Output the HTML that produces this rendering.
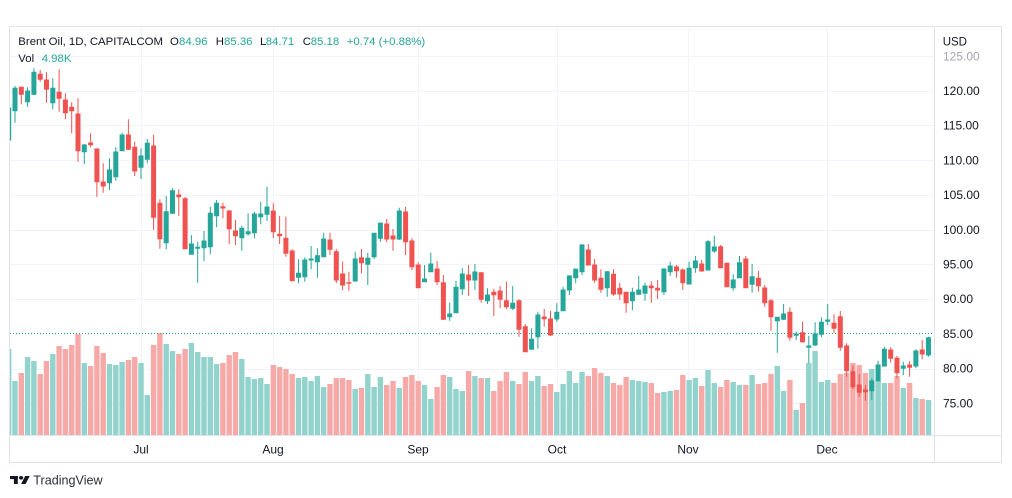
<!DOCTYPE html>
<html><head><meta charset="utf-8"><style>
html,body{margin:0;padding:0;background:#fff;width:1012px;height:498px;overflow:hidden}
svg{display:block;font-family:"Liberation Sans",Arial,sans-serif}
.g{fill:#26a69a;stroke:#26a69a;stroke-width:1}
.r{fill:#ef5350;stroke:#ef5350;stroke-width:1}
.vg{fill:#93d3cd}
.vr{fill:#f7a9a8}
.hd{position:absolute;font-family:"Liberation Sans",Arial,sans-serif;font-size:11.4px;line-height:14px;color:#131722;white-space:nowrap}
.t{color:#26a69a}
</style></head><body>
<svg width="1012" height="498" viewBox="0 0 1012 498">
<defs><clipPath id="c"><rect x="10" y="27" width="924" height="408"/></clipPath></defs>
<rect x="9.5" y="26.5" width="992" height="436" fill="#fff" stroke="#e0e3eb"/>
<g clip-path="url(#c)">
<g stroke="#f0f3fa" stroke-width="1">
<line x1="10" x2="934" y1="56.5" y2="56.5"/><line x1="10" x2="934" y1="91.5" y2="91.5"/><line x1="10" x2="934" y1="125.5" y2="125.5"/><line x1="10" x2="934" y1="160.5" y2="160.5"/><line x1="10" x2="934" y1="195.5" y2="195.5"/><line x1="10" x2="934" y1="230.5" y2="230.5"/><line x1="10" x2="934" y1="264.5" y2="264.5"/><line x1="10" x2="934" y1="299.5" y2="299.5"/><line x1="10" x2="934" y1="369.5" y2="369.5"/><line x1="10" x2="934" y1="403.5" y2="403.5"/>
<line x1="141.5" x2="141.5" y1="27" y2="435"/><line x1="273.5" x2="273.5" y1="27" y2="435"/><line x1="418.5" x2="418.5" y1="27" y2="435"/><line x1="557.5" x2="557.5" y1="27" y2="435"/><line x1="688.5" x2="688.5" y1="27" y2="435"/><line x1="827.5" x2="827.5" y1="27" y2="435"/>
</g>
<path class="vg" d="M6 435V349h5.4V435zM12.3 435V381h5.4V435zM24.9 435V357h5.4V435zM31.2 435V361h5.4V435zM50.1 435V354h5.4V435zM81.6 435V363h5.4V435zM106.8 435V364h5.4V435zM113.1 435V365h5.4V435zM119.4 435V362h5.4V435zM138.3 435V363h5.4V435zM144.6 435V395h5.4V435zM163.5 435V344h5.4V435zM169.8 435V351h5.4V435zM188.7 435V343h5.4V435zM195 435V352h5.4V435zM201.3 435V357h5.4V435zM207.6 435V357h5.4V435zM213.9 435V364h5.4V435zM239.1 435V359h5.4V435zM245.4 435V377h5.4V435zM251.7 435V379h5.4V435zM258 435V378h5.4V435zM264.3 435V384h5.4V435zM295.8 435V378h5.4V435zM302.1 435V377h5.4V435zM308.4 435V381h5.4V435zM314.7 435V376h5.4V435zM321 435V387h5.4V435zM352.5 435V389h5.4V435zM365.1 435V374h5.4V435zM371.4 435V387h5.4V435zM377.7 435V377h5.4V435zM396.6 435V388h5.4V435zM421.8 435V385h5.4V435zM428.1 435V399h5.4V435zM447 435V377h5.4V435zM453.3 435V389h5.4V435zM459.6 435V391h5.4V435zM472.2 435V376h5.4V435zM484.8 435V378h5.4V435zM510 435V381h5.4V435zM528.9 435V381h5.4V435zM535.2 435V376h5.4V435zM554.1 435V392h5.4V435zM560.4 435V384h5.4V435zM566.7 435V371h5.4V435zM573 435V383h5.4V435zM579.3 435V372h5.4V435zM604.5 435V376h5.4V435zM629.7 435V380h5.4V435zM636 435V381h5.4V435zM642.3 435V382h5.4V435zM661.2 435V392h5.4V435zM667.5 435V391h5.4V435zM686.4 435V380h5.4V435zM692.7 435V378h5.4V435zM705.3 435V370h5.4V435zM711.6 435V383h5.4V435zM730.5 435V382h5.4V435zM736.8 435V385h5.4V435zM749.4 435V375h5.4V435zM774.6 435V366h5.4V435zM780.9 435V391h5.4V435zM793.5 435V410h5.4V435zM806.1 435V363h5.4V435zM812.4 435V351h5.4V435zM818.7 435V382h5.4V435zM825 435V380h5.4V435zM869.1 435V369h5.4V435zM875.4 435V381h5.4V435zM881.7 435V383h5.4V435zM900.6 435V388h5.4V435zM913.2 435V398h5.4V435zM925.8 435V400h5.4V435z"/>
<path class="vr" d="M18.6 435V373h5.4V435zM37.5 435V374h5.4V435zM43.8 435V361h5.4V435zM56.4 435V346h5.4V435zM62.7 435V349h5.4V435zM69 435V345h5.4V435zM75.3 435V334h5.4V435zM87.9 435V366h5.4V435zM94.2 435V346h5.4V435zM100.5 435V353h5.4V435zM125.7 435V360h5.4V435zM132 435V357h5.4V435zM150.9 435V345h5.4V435zM157.2 435V333h5.4V435zM176.1 435V354h5.4V435zM182.4 435V349h5.4V435zM220.2 435V363h5.4V435zM226.5 435V355h5.4V435zM232.8 435V352h5.4V435zM270.6 435V365h5.4V435zM276.9 435V367h5.4V435zM283.2 435V369h5.4V435zM289.5 435V374h5.4V435zM327.3 435V384h5.4V435zM333.6 435V378h5.4V435zM339.9 435V378h5.4V435zM346.2 435V380h5.4V435zM358.8 435V388h5.4V435zM384 435V385h5.4V435zM390.3 435V381h5.4V435zM402.9 435V377h5.4V435zM409.2 435V375h5.4V435zM415.5 435V381h5.4V435zM434.4 435V387h5.4V435zM440.7 435V375h5.4V435zM465.9 435V371h5.4V435zM478.5 435V378h5.4V435zM491.1 435V391h5.4V435zM497.4 435V381h5.4V435zM503.7 435V372h5.4V435zM516.3 435V384h5.4V435zM522.6 435V372h5.4V435zM541.5 435V386h5.4V435zM547.8 435V384h5.4V435zM585.6 435V376h5.4V435zM591.9 435V368h5.4V435zM598.2 435V373h5.4V435zM610.8 435V383h5.4V435zM617.1 435V385h5.4V435zM623.4 435V377h5.4V435zM648.6 435V383h5.4V435zM654.9 435V393h5.4V435zM673.8 435V390h5.4V435zM680.1 435V375h5.4V435zM699 435V386h5.4V435zM717.9 435V387h5.4V435zM724.2 435V380h5.4V435zM743.1 435V385h5.4V435zM755.7 435V384h5.4V435zM762 435V383h5.4V435zM768.3 435V374h5.4V435zM787.2 435V380h5.4V435zM799.8 435V403h5.4V435zM831.3 435V383h5.4V435zM837.6 435V374h5.4V435zM843.9 435V373h5.4V435zM850.2 435V363h5.4V435zM856.5 435V365h5.4V435zM862.8 435V373h5.4V435zM888 435V383h5.4V435zM894.3 435V376h5.4V435zM906.9 435V383h5.4V435zM919.5 435V399h5.4V435z"/>
<line x1="10" x2="934" y1="333.5" y2="333.5" stroke="#26a69a" stroke-width="1" stroke-dasharray="1 2"/>
<path class="g" d="M8.7 106V142M6.7 108h4V140h-4zM15 86V122.7M13 88.3h4V110.7h-4zM27.6 87.3V106.7M25.6 91h4V101.7h-4zM33.9 68.3V95M31.9 72.3h4V94.3h-4zM52.8 78.3V109.3M50.8 88.3h4V102.7h-4zM84.3 144V164M82.3 145h4V151.7h-4zM109.5 158.3V190M107.5 170h4V182.7h-4zM115.8 147.3V180.7M113.8 152h4V176.7h-4zM122.1 132.7V150.7M120.1 135h4V150.7h-4zM141 148.3V179M139 156h4V167.3h-4zM147.3 139V163.3M145.3 143.3h4V159.3h-4zM166.2 196V249.3M164.2 211.7h4V242.7h-4zM172.5 188.3V214M170.5 190.7h4V213.3h-4zM191.4 235V254.3M189.4 244h4V254.3h-4zM197.7 241.7V282.7M195.7 247.3h4V248.3h-4zM204 231V261M202 241h4V247.7h-4zM210.3 206.7V254M208.3 213.3h4V246.7h-4zM216.6 200V227.3M214.6 203.3h4V215.7h-4zM241.8 225.7V250.7M239.8 228.3h4V237.7h-4zM248.1 213.3V235.7M246.1 231.7h4V233.7h-4zM254.4 211.7V238.3M252.4 214h4V232.7h-4zM260.7 201.7V224.3M258.7 214h4V216.7h-4zM267 186.7V221M265 207h4V214.3h-4zM298.5 259.3V283.3M296.5 273.3h4V277.3h-4zM304.8 257.3V281.7M302.8 260h4V276.7h-4zM311.1 246V269.3M309.1 259h4V260h-4zM317.4 248.3V277.7M315.4 255.7h4V261.7h-4zM323.7 232.7V257.3M321.7 239h4V256.7h-4zM355.2 251.7V281.7M353.2 259h4V281h-4zM367.8 252.7V285M365.8 258.3h4V264.3h-4zM374.1 232.7V259M372.1 233.3h4V256.7h-4zM380.4 222.3V241.7M378.4 223.3h4V238.3h-4zM399.3 207.7V240M397.3 211h4V239h-4zM424.5 265V281.7M422.5 279h4V281.7h-4zM430.8 252.7V272.3M428.8 264h4V271.7h-4zM449.7 302.7V320.7M447.7 314h4V316.7h-4zM456 280.7V312.7M454 287.3h4V312.7h-4zM462.3 268.3V295M460.3 274h4V288.7h-4zM474.9 264V290M472.9 272h4V280h-4zM487.5 288.3V304M485.5 295h4V300.7h-4zM512.7 286V310M510.7 303.3h4V308.3h-4zM531.6 328.3V349.3M529.6 339.3h4V349.3h-4zM537.9 311.7V348.7M535.9 315h4V336.7h-4zM556.8 303.3V321.7M554.8 312.3h4V319h-4zM563.1 286.7V310.7M561.1 290h4V310.7h-4zM569.4 275V295M567.4 276h4V290h-4zM575.7 268.3V283.3M573.7 269.3h4V277.7h-4zM582 244V275M580 245h4V271.7h-4zM607.2 271V296.7M605.2 271.7h4V287.7h-4zM632.4 287.7V310M630.4 292.3h4V300.7h-4zM638.7 276V295M636.7 290h4V294.3h-4zM645 282.7V300.7M643 286h4V293.3h-4zM663.9 268.3V295M661.9 269h4V291.7h-4zM670.2 261.7V276M668.2 266h4V271.7h-4zM689.1 261.7V284M687.1 268.3h4V284h-4zM695.4 256V272.7M693.4 261h4V267.7h-4zM708 240V270.7M706 241.7h4V270h-4zM714.3 235.7V252.7M712.3 247h4V251h-4zM733.2 274.3V290.7M731.2 280h4V287.7h-4zM739.5 256V277.7M737.5 262.7h4V277.7h-4zM752.1 264V292.7M750.1 276.7h4V284.3h-4zM777.3 316.7V352.7M775.3 317.3h4V320.7h-4zM783.6 304V320M781.6 314h4V319.3h-4zM796.2 331.7V340M794.2 334h4V335.3h-4zM808.8 336V363.3M806.8 346h4V347.3h-4zM815.1 322.3V346M813.1 334h4V345h-4zM821.4 317.3V337.3M819.4 322.3h4V334.3h-4zM827.7 304V325M825.7 320h4V321.3h-4zM871.8 378.3V400M869.8 381h4V390.7h-4zM878.1 360.7V380.7M876.1 365h4V380.7h-4zM884.4 346.7V366.7M882.4 349.3h4V366h-4zM903.3 361.7V375M901.3 366h4V368.3h-4zM915.9 349.3V368.3M913.9 351h4V366h-4zM928.5 336.7V356.7M926.5 337.7h4V355h-4z"/>
<path class="r" d="M21.3 86.7V104.3M19.3 87.3h4V94.3h-4zM40.2 70V81.7M38.2 74.3h4V79.3h-4zM46.5 72.3V102.7M44.5 80h4V89.3h-4zM59.1 69.3V111.7M57.1 92.3h4V98.3h-4zM65.4 93.3V119.3M63.4 100h4V112.7h-4zM71.7 102.3V133.3M69.7 107.3h4V110.7h-4zM78 98.3V161.7M76 114h4V150.7h-4zM90.6 133.3V147.3M88.6 143h4V144.7h-4zM96.9 148.3V196.7M94.9 149h4V181.7h-4zM103.2 163.3V192.7M101.2 182h4V186h-4zM128.4 119.3V150M126.4 135h4V149.3h-4zM134.7 141.7V176M132.7 147.3h4V171h-4zM153.6 135V230M151.6 146h4V217.3h-4zM159.9 199.3V248.7M157.9 203.3h4V238.7h-4zM178.8 189.3V216M176.8 195h4V196.7h-4zM185.1 196.7V248.7M183.1 198.7h4V248.7h-4zM222.9 202.7V218.3M220.9 206.7h4V208h-4zM229.2 210V244M227.2 211h4V228.7h-4zM235.5 220V245M233.5 231h4V235.7h-4zM273.3 203.3V238.3M271.3 211h4V231.7h-4zM279.6 216V244M277.6 234.3h4V235.7h-4zM285.9 216.7V256.7M283.9 238.3h4V253.3h-4zM292.2 249.3V280.7M290.2 251h4V280.7h-4zM330 232.7V255M328 240h4V249.3h-4zM336.3 249.3V283.3M334.3 251.7h4V280h-4zM342.6 261.7V290M340.6 274h4V285h-4zM348.9 271.7V290.7M346.9 282.7h4V283.3h-4zM361.5 249V273.3M359.5 257.7h4V262.7h-4zM386.7 219V242.3M384.7 224h4V239h-4zM393 229V250.7M391 236h4V239h-4zM405.6 206.7V255M403.6 212h4V241.7h-4zM411.9 238.3V270M409.9 241h4V266.7h-4zM418.2 262.3V287.7M416.2 265h4V287.7h-4zM437.1 261V285M435.1 269h4V281.7h-4zM443.4 275V320M441.4 282.7h4V319.3h-4zM468.6 265V296M466.6 275h4V280h-4zM481.2 272V302.7M479.2 272.7h4V299.3h-4zM493.8 288.7V316M491.8 292.3h4V294.7h-4zM500.1 286V308.3M498.1 291h4V299.3h-4zM506.4 281.7V309.3M504.4 300.7h4V306.7h-4zM519 299.3V336.7M517 300.7h4V329.3h-4zM525.3 324V351.7M523.3 326.7h4V351.7h-4zM544.2 309V326.7M542.2 317h4V318.7h-4zM550.5 310.7V336M548.5 319h4V335h-4zM588.3 244V265M586.3 250h4V265h-4zM594.6 259V282.7M592.6 265h4V280h-4zM600.9 269.3V292.7M598.9 278.3h4V289.3h-4zM613.5 269.3V295.7M611.5 274.3h4V294h-4zM619.8 282.7V300M617.8 288.3h4V294h-4zM626.1 291.7V312.7M624.1 292.3h4V302.7h-4zM651.3 281V302.7M649.3 286h4V287.7h-4zM657.6 280V299M655.6 288.3h4V290h-4zM676.5 265V277.7M674.5 267h4V270.7h-4zM682.8 268.3V290M680.8 270h4V282.7h-4zM701.7 260V271.7M699.7 264h4V271h-4zM720.6 245V267.7M718.6 246.7h4V267.7h-4zM726.9 262.7V287.3M724.9 263.3h4V286.7h-4zM745.8 256V287.7M743.8 259h4V287.7h-4zM758.4 270.7V291.7M756.4 278.3h4V285.7h-4zM764.7 285V306.7M762.7 288h4V302.7h-4zM771 299V330.7M769 300.7h4V316.7h-4zM789.9 307.3V340.7M787.9 312.3h4V337.3h-4zM802.5 321.7V342.7M800.5 332.7h4V341.7h-4zM834 314.3V332.7M832 323.3h4V328.3h-4zM840.3 311V350.7M838.3 316.7h4V347.3h-4zM846.6 343.3V376.7M844.6 346h4V370.7h-4zM852.9 365V389M850.9 371.7h4V386.7h-4zM859.2 374V396.7M857.2 385h4V392.3h-4zM865.5 385V400.7M863.5 390h4V391.7h-4zM890.7 347.3V362.7M888.7 350h4V358.3h-4zM897 356V378.3M895 358.3h4V372.7h-4zM909.6 361V376.7M907.6 365h4V367.3h-4zM922.2 340V359.3M920.2 350h4V354h-4z"/>
</g>
<line x1="934.5" x2="934.5" y1="27" y2="462" stroke="#e0e3eb"/>
<line x1="10" x2="1001" y1="435.5" y2="435.5" stroke="#e0e3eb"/>
<g font-size="12" fill="#131722">
<text x="943" y="60.3" fill="#a3a6af">125.00</text>
<text x="943" y="95">120.00</text>
<text x="943" y="129.7">115.00</text>
<text x="943" y="164.4">110.00</text>
<text x="943" y="199.1">105.00</text>
<text x="943" y="233.8">100.00</text>
<text x="943" y="268.5">95.00</text>
<text x="943" y="303.2">90.00</text>
<text x="943" y="337.9">85.00</text>
<text x="943" y="372.6">80.00</text>
<text x="943" y="407.3">75.00</text>
<text x="942.7" y="45.6" font-size="11.5">USD</text>
</g>
<g font-size="12" fill="#131722" text-anchor="middle">
<text x="141" y="453.3">Jul</text>
<text x="273" y="453.3">Aug</text>
<text x="418" y="453.3">Sep</text>
<text x="557" y="453.3">Oct</text>
<text x="688" y="453.3">Nov</text>
<text x="827" y="453.3">Dec</text>
</g>
<g fill="#131722">
<rect x="10" y="476" width="7.8" height="3.1"/>
<rect x="13.9" y="476" width="3.9" height="8"/>
<ellipse cx="21.1" cy="477.8" rx="2.1" ry="1.8"/>
<polygon points="25.2,476 29.7,476 25.6,484 21.1,484"/>
<text x="33.3" y="484.3" font-size="12.6" fill="#2a2e39">TradingView</text>
</g>
</svg>
<div class="hd" style="left:18.3px;top:35px">Brent Oil, 1D, CAPITALCOM</div>
<div class="hd" style="left:170px;top:35px">O</div>
<div class="hd t" style="left:179px;top:35px">84.96</div>
<div class="hd" style="left:215.7px;top:35px">H</div>
<div class="hd t" style="left:224px;top:35px">85.36</div>
<div class="hd" style="left:260px;top:35px">L</div>
<div class="hd t" style="left:265.7px;top:35px">84.71</div>
<div class="hd" style="left:302.7px;top:35px">C</div>
<div class="hd t" style="left:310.7px;top:35px">85.18</div>
<div class="hd t" style="left:346.7px;top:35px">+0.74 (+0.88%)</div>
<div class="hd" style="left:18.3px;top:52.3px">Vol</div>
<div class="hd t" style="left:41.7px;top:52.3px">4.98K</div>
</body></html>
